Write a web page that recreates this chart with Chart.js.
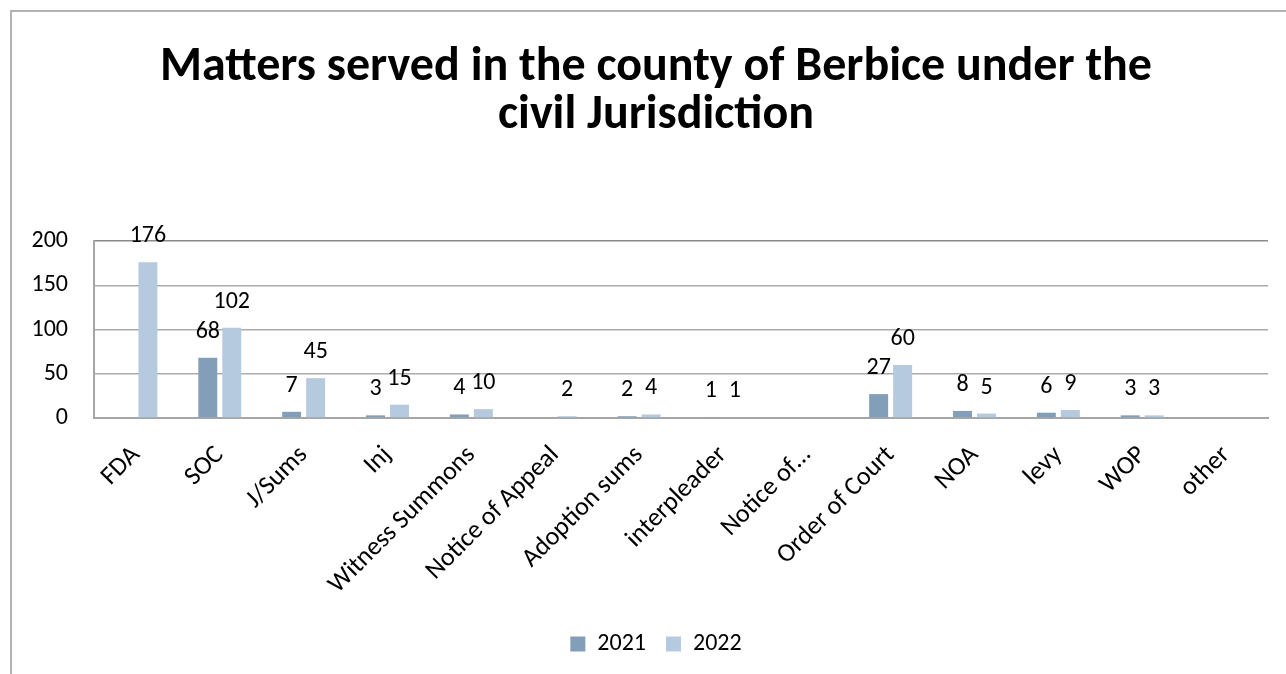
<!DOCTYPE html>
<html><head><meta charset="utf-8">
<script src="https://cdn.jsdelivr.net/npm/chart.js@4.4.1/dist/chart.umd.min.js"></script>
<style>
html,body{margin:0;padding:0;background:#fff;overflow:hidden;width:1286px;height:674px;}
#frame{position:absolute;left:10px;top:10px;width:1400px;height:800px;border-top:2px solid #b3b3b3;border-left:2px solid #b3b3b3;}
#c{position:absolute;left:0;top:0;}
</style></head><body>
<div id="frame"></div>
<canvas id="c" width="1286" height="674"></canvas>
<script>
const categories = ['FDA','SOC','J/Sums','Inj','Witness Summons','Notice of Appeal','Adoption sums','interpleader','Notice of\u2026','Order of Court','NOA','levy','WOP','other'];
const values2021 = [null,68,7,3,4,null,2,1,null,27,8,6,3,null];
const values2022 = [176,102,45,15,10,2,4,1,null,60,5,9,3,null];
const yTicks = [0,50,100,150,200];
const seriesNames = ['2021','2022'];
const titleLines = ['Matters served in the county of Berbice under the','civil Jurisdiction'];
const FONT = 'Carlito, Lato, "Open Sans", sans-serif';

const labelPlugin = {
  id:'barLabels',
  afterDatasetsDraw(chart){
    const ctx = chart.ctx;
    ctx.save();
    ctx.font = '24px ' + FONT;
    ctx.fillStyle = '#000';
    ctx.textAlign = 'center';
    ctx.textBaseline = 'middle';
    chart.data.datasets.forEach((ds,i)=>{
      const meta = chart.getDatasetMeta(i);
      meta.data.forEach((bar,j)=>{
        const v = ds.data[j];
        if (v === null || v === undefined) return;
        ctx.fillText(String(v), bar.x, bar.y - 26);
      });
    });
    ctx.restore();
  }
};

new Chart(document.getElementById('c').getContext('2d'), {
  type:'bar',
  data:{
    labels:categories,
    datasets:[
      {label:seriesNames[0], data:values2021, backgroundColor:'#839eb9', categoryPercentage:0.572, barPercentage:0.79},
      {label:seriesNames[1], data:values2022, backgroundColor:'#b5c9df', categoryPercentage:0.572, barPercentage:0.79}
    ]
  },
  options:{
    responsive:false,
    animation:false,
    layout:{padding:{left:26,right:0,top:0,bottom:8}},
    plugins:{
      title:{display:true,text:titleLines,color:'#000',font:{family:FONT,size:48,weight:'bold',lineHeight:1.0},padding:{top:43.5,bottom:101.5}},
      legend:{position:'bottom',labels:{boxWidth:15,boxHeight:15,color:'#000',font:{family:FONT,size:24},padding:20}},
      tooltip:{enabled:false}
    },
    scales:{
      x:{
        grid:{display:false,drawTicks:false},
        border:{display:true,color:'#a6a6a6',width:2},
        ticks:{color:'#000',font:{family:FONT,size:26},maxRotation:45,minRotation:45,autoSkip:false,padding:22},
        afterFit(s){ s.height = 194; }
      },
      y:{
        min:0,max:200,
        afterBuildTicks(s){ s.ticks = yTicks.map(v=>({value:v})); },
        grid:{drawTicks:false,lineWidth:1.5,color:(c)=> (c.tick && c.tick.value===200) ? '#8a8a8a' : '#ababab'},
        border:{display:true,color:'#a6a6a6',width:2},
        ticks:{color:'#000',font:{family:FONT,size:24},padding:26},
        afterFit(s){ s.width = 68; }
      },
      yPad:{
        position:'right',
        display:true,
        grid:{display:false,drawTicks:false},
        border:{display:false},
        ticks:{display:false},
        afterFit(s){ s.width = 18; }
      }
    }
  },
  plugins:[labelPlugin]
});
</script>
</body></html>
